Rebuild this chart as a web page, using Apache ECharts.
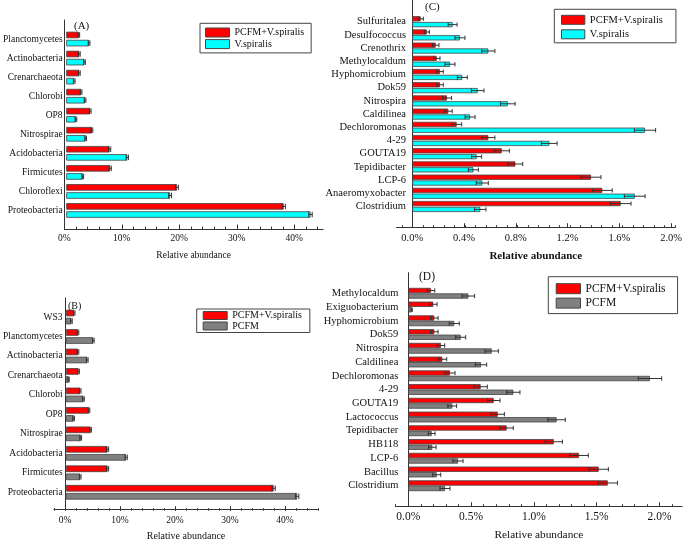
<!DOCTYPE html>
<html>
<head>
<meta charset="utf-8">
<title>Relative abundance</title>
<script src="https://cdn.jsdelivr.net/npm/echarts@6/dist/echarts.min.js"></script>
<style>
  html, body { margin: 0; padding: 0; background: #fff; }
  #chart { width: 685px; height: 542px; }
</style>
</head>
<body>
<div id="chart"></div>
<script>
/* ---------- data (percent) ---------- */
var catsA = ['Planctomycetes', 'Actinobacteria', 'Crenarchaeota', 'Chlorobi', 'OP8', 'Nitrospirae',
  'Acidobacteria', 'Firmicutes', 'Chloroflexi', 'Proteobacteria'];
var aMix = [2.2, 2.3, 2.3, 2.6, 4.2, 4.5, 7.6, 7.7, 19.4, 38.1];
var aMixErr = [0.15, 0.15, 0.15, 0.15, 0.15, 0.15, 0.2, 0.2, 0.25, 0.3];
var aVs = [4.0, 3.2, 1.4, 3.3, 1.7, 3.4, 10.7, 2.9, 18.2, 42.8];
var aVsErr = [0.15, 0.15, 0.15, 0.15, 0.15, 0.15, 0.2, 0.15, 0.25, 0.3];

var catsB = ['WS3', 'Planctomycetes', 'Actinobacteria', 'Crenarchaeota', 'Chlorobi', 'OP8', 'Nitrospirae',
  'Acidobacteria', 'Firmicutes', 'Proteobacteria'];
var bMix = [1.5, 2.2, 2.2, 2.3, 2.6, 4.2, 4.5, 7.6, 7.6, 37.9];
var bMixErr = [0.15, 0.15, 0.15, 0.15, 0.15, 0.15, 0.15, 0.2, 0.2, 0.3];
var bPc = [1.0, 5.0, 3.9, 0.5, 3.2, 1.4, 2.7, 11.0, 2.6, 42.2];
var bPcErr = [0.15, 0.15, 0.15, 0.1, 0.15, 0.15, 0.15, 0.2, 0.15, 0.3];

var catsC = ['Sulfuritalea', 'Desulfococcus', 'Crenothrix', 'Methylocaldum', 'Hyphomicrobium', 'Dok59',
  'Nitrospira', 'Caldilinea', 'Dechloromonas', '4-29', 'GOUTA19', 'Tepidibacter', 'LCP-6',
  'Anaeromyxobacter', 'Clostridium'];
var cMix = [0.064, 0.11, 0.178, 0.186, 0.211, 0.211, 0.264, 0.274, 0.338, 0.579, 0.681, 0.785, 1.361, 1.447, 1.587];
var cMixErr = [0.02, 0.02, 0.025, 0.025, 0.025, 0.025, 0.035, 0.03, 0.038, 0.05, 0.058, 0.056, 0.076, 0.076, 0.079];
var cVs = [0.307, 0.363, 0.579, 0.287, 0.381, 0.498, 0.727, 0.44, 1.772, 1.043, 0.49, 0.465, 0.533, 1.694, 0.518];
var cVsErr = [0.034, 0.038, 0.05, 0.038, 0.038, 0.048, 0.056, 0.038, 0.081, 0.06, 0.038, 0.038, 0.046, 0.079, 0.043];

var catsD = ['Methylocaldum', 'Exiguobacterium', 'Hyphomicrobium', 'Dok59', 'Nitrospira', 'Caldilinea',
  'Dechloromonas', '4-29', 'GOUTA19', 'Lactococcus', 'Tepidibacter', 'HB118', 'LCP-6', 'Bacillus', 'Clostridium'];
var dMix = [0.181, 0.199, 0.207, 0.207, 0.26, 0.271, 0.332, 0.576, 0.68, 0.712, 0.783, 1.158, 1.359, 1.516, 1.588];
var dMixErr = [0.03, 0.03, 0.03, 0.03, 0.03, 0.035, 0.04, 0.053, 0.05, 0.053, 0.053, 0.069, 0.074, 0.077, 0.077];
var dPc = [0.478, 0.027, 0.366, 0.417, 0.664, 0.579, 1.924, 0.836, 0.35, 1.181, 0.186, 0.191, 0.396, 0.226, 0.292];
var dPcErr = [0.05, 0.005, 0.04, 0.04, 0.053, 0.045, 0.093, 0.053, 0.035, 0.069, 0.027, 0.03, 0.04, 0.032, 0.04];

var MIX = 'PCFM+V.spiralis', VS = 'V.spiralis', PC = 'PCFM';

/* ---------- helpers ---------- */
var W = 685, H = 542;
var SERIF = '"Liberation Serif", "Times New Roman", serif';
var INK = '#111', LINE = '#333';

var option = {
  animation: false,
  backgroundColor: '#fff',
  textStyle: { fontFamily: SERIF, color: INK },
  title: [], legend: [], grid: [], xAxis: [], yAxis: [], series: []
};

// one x and one y axis per grid, so axis index == grid index
function addGrid(g, x, y) {
  option.grid.push(g);
  var gi = option.grid.length - 1;
  x.gridIndex = gi;
  y.gridIndex = gi;
  option.xAxis.push(x);
  option.yAxis.push(y);
  return gi;
}

function hiddenAxis(min, max) {
  return { type: 'value', min: min, max: max, show: false };
}

function errRender(off, cap) {
  return function (params, api) {
    var v = api.value(0), i = api.value(1), e = api.value(2);
    var a = api.coord([v - e, i]), b = api.coord([v + e, i]);
    var y = a[1] + off, h = cap / 2;
    var st = { stroke: LINE, lineWidth: 1 };
    return {
      type: 'group',
      children: [
        { type: 'line', shape: { x1: a[0], y1: y, x2: b[0], y2: y }, style: st },
        { type: 'line', shape: { x1: a[0], y1: y - h, x2: a[0], y2: y + h }, style: st },
        { type: 'line', shape: { x1: b[0], y1: y - h, x2: b[0], y2: y + h }, style: st }
      ]
    };
  };
}

function addPanel(p) {
  var px = function (v) { return p.x0 + v * p.k; };
  var rgt = function (v) { return W - px(v); };
  var clean = function (v) { return Number(v.toFixed(6)); };

  // frame: axis lines + axis name
  addGrid({ left: px(p.m0), right: rgt(p.M), top: p.frameTop, bottom: H - p.frameBot },
    {
      type: 'value', min: p.m0, max: p.M,
      axisLine: { show: true, onZero: false, lineStyle: { color: LINE } },
      axisTick: { show: false }, axisLabel: { show: false }, splitLine: { show: false },
      name: 'Relative abundance', nameLocation: 'middle', nameGap: p.nameGap,
      nameTextStyle: { fontFamily: SERIF, fontSize: p.nameSize, fontWeight: p.nameWeight, color: INK }
    },
    {
      type: 'value', min: 0, max: 1,
      axisLine: { show: true, onZero: true, lineStyle: { color: LINE } },
      axisTick: { show: false }, axisLabel: { show: false }, splitLine: { show: false }
    });

  // minor ticks
  var t0 = clean(Math.ceil(p.m0 / p.minor - 1e-6) * p.minor);
  var t1 = clean(Math.floor(p.M / p.minor + 1e-6) * p.minor);
  addGrid({ left: px(t0), right: rgt(t1), top: p.frameTop, bottom: H - p.frameBot },
    {
      type: 'value', min: t0, max: t1, interval: p.minor,
      axisLine: { show: false },
      axisTick: { show: true, inside: true, length: 2.5, lineStyle: { color: LINE } },
      axisLabel: { show: false }, splitLine: { show: false }
    },
    hiddenAxis(0, 1));

  // major ticks + labels
  var mj = clean(Math.floor(p.M / p.major + 1e-6) * p.major);
  addGrid({ left: px(0), right: rgt(mj), top: p.frameTop, bottom: H - p.frameBot },
    {
      type: 'value', min: 0, max: mj, interval: p.major,
      axisLine: { show: false },
      axisTick: { show: true, inside: true, length: 4.5, lineStyle: { color: LINE } },
      axisLabel: {
        margin: p.labMargin, fontSize: p.tickSize, fontFamily: SERIF, color: INK,
        formatter: function (v) { return v.toFixed(p.dec) + '%'; }
      },
      splitLine: { show: false }
    },
    hiddenAxis(0, 1));

  // bars
  var bi = addGrid({ left: px(0), right: rgt(p.M), top: p.catTop, bottom: H - p.catBot },
    hiddenAxis(0, p.M),
    {
      type: 'category', inverse: true, data: p.cats,
      axisLine: { show: false }, axisTick: { show: false },
      axisLabel: { interval: 0, margin: p.catMargin, fontSize: p.catSize, fontFamily: SERIF, color: INK }
    });

  var step = p.bw * (1 + p.gap);
  var defs = [
    [p.names[0], p.colors[0], p.vals[0], p.errs[0], -step / 2],
    [p.names[1], p.colors[1], p.vals[1], p.errs[1], step / 2]
  ];
  defs.forEach(function (s) {
    option.series.push({
      type: 'bar', name: s[0], xAxisIndex: bi, yAxisIndex: bi,
      data: s[2], barWidth: p.bw, barGap: (p.gap * 100) + '%',
      itemStyle: { color: s[1], borderColor: '#444', borderWidth: 0.8 }
    });
  });
  defs.forEach(function (s) {
    option.series.push({
      type: 'custom', xAxisIndex: bi, yAxisIndex: bi, silent: true, z: 5,
      encode: { x: 0, y: 1 },
      data: s[2].map(function (v, i) { return [v, i, s[3][i]]; }),
      renderItem: errRender(s[4], p.bw - 1)
    });
  });

  option.legend.push({
    data: p.names, orient: 'vertical', left: p.lg.left, top: p.lg.top,
    padding: p.lg.pad, itemWidth: p.lg.iw, itemHeight: p.lg.ih, itemGap: p.lg.gap,
    borderColor: '#444', borderWidth: 1, icon: 'rect', selectedMode: false,
    itemStyle: { borderColor: '#444', borderWidth: 1 },
    textStyle: { fontFamily: SERIF, fontSize: p.lg.fs, color: INK }
  });

  option.title.push({
    text: p.tag, left: p.tagPos[0], top: p.tagPos[1], padding: 0,
    textStyle: { fontFamily: SERIF, fontSize: p.tagSize, fontWeight: 'normal', color: INK }
  });
}

/* ---------- panels ---------- */
addPanel({
  tag: '(A)', tagPos: [74, 20.5], tagSize: 11,
  cats: catsA, names: [MIX, VS], colors: ['#ff0000', '#00ffff'],
  vals: [aMix, aVs], errs: [aMixErr, aVsErr],
  x0: 64.3, k: 5.75, m0: 0, M: 45, major: 10, minor: 2, dec: 0,
  frameTop: 20, frameBot: 229, catTop: 29.5, catBot: 220,
  bw: 6.5, gap: 0.25, catSize: 9.5, catMargin: 3.6,
  tickSize: 9.5, labMargin: 4.5, nameSize: 9.5, nameGap: 21.5, nameWeight: 'normal',
  lg: { left: 200, top: 23.3, pad: [4.2, 7, 3.8, 5], iw: 24, ih: 9, gap: 1.6, fs: 10 }
});

addPanel({
  tag: '(B)', tagPos: [68, 301.5], tagSize: 10,
  cats: catsB, names: [MIX, PC], colors: ['#ff0000', '#808080'],
  vals: [bMix, bPc], errs: [bMixErr, bPcErr],
  x0: 65, k: 5.5, m0: -2, M: 46, major: 10, minor: 2, dec: 0,
  frameTop: 298, frameBot: 510.7, catTop: 307.3, catBot: 502,
  bw: 6.6, gap: 0.22, catSize: 9.5, catMargin: 3.3,
  tickSize: 9.5, labMargin: 4.5, nameSize: 10, nameGap: 22, nameWeight: 'normal',
  lg: { left: 196.7, top: 309, pad: [1.5, 8, 1.5, 6], iw: 24, ih: 8, gap: 0.5, fs: 10 }
});

addPanel({
  tag: '(C)', tagPos: [425, 1.2], tagSize: 11,
  cats: catsC, names: [MIX, VS], colors: ['#ff0000', '#00ffff'],
  vals: [cMix, cVs], errs: [cMixErr, cVsErr],
  x0: 412.3, k: 131.3, m0: -0.12, M: 2.0, major: 0.4, minor: 0.08, dec: 1,
  frameTop: 0, frameBot: 227.7, catTop: 15.1, catBot: 213.1,
  bw: 5.2, gap: 0.12, catSize: 10.5, catMargin: 6.3,
  tickSize: 10.5, labMargin: 5.2, nameSize: 11, nameGap: 22.5, nameWeight: 'bold',
  lg: { left: 554.3, top: 9.3, pad: [5, 13, 3, 6.7], iw: 23.3, ih: 9, gap: 3.5, fs: 10.5 }
});

addPanel({
  tag: '(D)', tagPos: [419, 271], tagSize: 11.5,
  cats: catsD, names: [MIX, PC], colors: ['#ff0000', '#808080'],
  vals: [dMix, dPc], errs: [dMixErr, dPcErr],
  x0: 408.3, k: 125.6, m0: -0.1, M: 2.18, major: 0.5, minor: 0.1, dec: 1,
  frameTop: 272.7, frameBot: 506.7, catTop: 286.4, catBot: 492.6,
  bw: 5.3, gap: 0.04, catSize: 10.5, catMargin: 10,
  tickSize: 11.5, labMargin: 4.2, nameSize: 11.3, nameGap: 24, nameWeight: 'normal',
  lg: { left: 548.3, top: 276.7, pad: [6, 12, 4.5, 7.4], iw: 24.3, ih: 10, gap: 2.4, fs: 11.5 }
});

var chart = echarts.init(document.getElementById('chart'));
chart.setOption(option);
</script>
</body>
</html>
